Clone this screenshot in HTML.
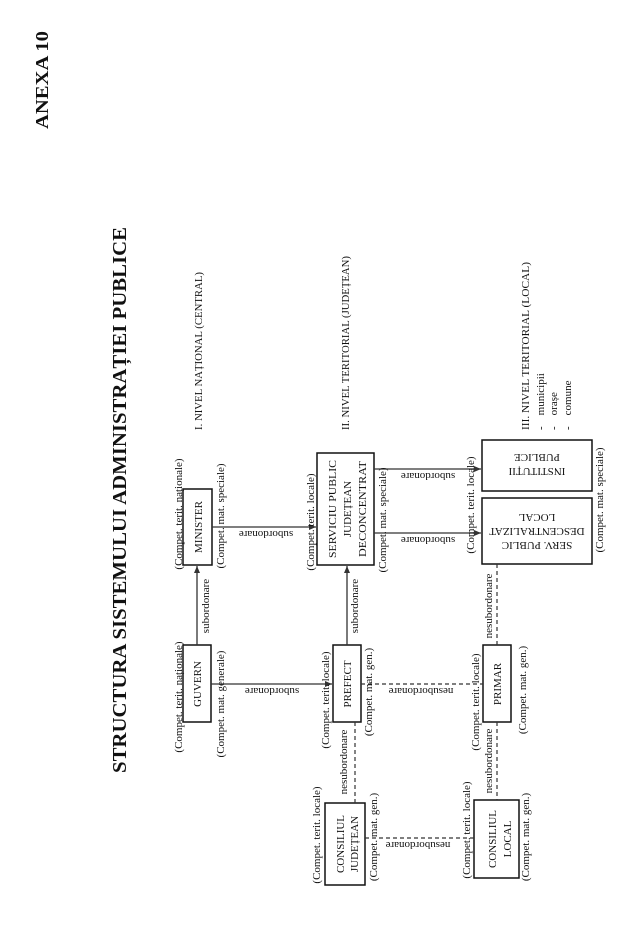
<!DOCTYPE html>
<html><head><meta charset="utf-8"><style>
html,body{margin:0;padding:0;background:#fff;}
svg{display:block;}
text{font-family:"Liberation Serif",serif;fill:#111;}
.s{font-size:11px;}
.b{font-size:11px;}
</style></head><body>
<svg width="636" height="948" viewBox="0 0 636 948" xmlns="http://www.w3.org/2000/svg">
<defs>
<marker id="a" markerWidth="8" markerHeight="8" refX="7" refY="4" orient="auto" markerUnits="userSpaceOnUse">
<path d="M0,1 L7,4 L0,7 z" fill="#333"/>
</marker>
</defs>

<!-- Title and annex -->
<text transform="translate(48,80) rotate(-90)" text-anchor="middle" font-size="18" font-weight="bold" textLength="98" lengthAdjust="spacingAndGlyphs">ANEXA 10</text>
<text transform="translate(126,500) rotate(-90)" text-anchor="middle" font-size="20" font-weight="bold" textLength="546" lengthAdjust="spacingAndGlyphs">STRUCTURA SISTEMULUI ADMINISTRAȚIEI PUBLICE</text>

<!-- Levels -->
<text transform="translate(202,351) rotate(-90)" text-anchor="middle" class="s" textLength="158" lengthAdjust="spacingAndGlyphs">I. NIVEL NAȚIONAL (CENTRAL)</text>
<text transform="translate(349,343) rotate(-90)" text-anchor="middle" class="s" textLength="174" lengthAdjust="spacingAndGlyphs">II. NIVEL TERITORIAL (JUDEȚEAN)</text>
<text transform="translate(529,346) rotate(-90)" text-anchor="middle" class="s" textLength="168" lengthAdjust="spacingAndGlyphs">III. NIVEL TERITORIAL (LOCAL)</text>
<text transform="translate(544,430) rotate(-90)" class="s">-&#160;&#160;&#160;&#160;municipii</text>
<text transform="translate(557,430) rotate(-90)" class="s">-&#160;&#160;&#160;&#160;orașe</text>
<text transform="translate(571,430) rotate(-90)" class="s">-&#160;&#160;&#160;&#160;comune</text>

<!-- Boxes -->
<g fill="none" stroke="#111" stroke-width="1.5">
<rect x="183" y="489" width="29" height="76"/>
<rect x="317" y="453" width="57" height="112"/>
<rect x="183" y="645" width="28" height="77"/>
<rect x="333" y="645" width="28" height="77"/>
<rect x="325" y="803" width="40" height="82"/>
<rect x="482" y="440" width="110" height="51"/>
<rect x="482" y="498" width="110" height="66"/>
<rect x="483" y="645" width="28" height="77"/>
<rect x="474" y="800" width="45" height="78"/>
</g>

<!-- Box texts -->
<text transform="translate(202,527) rotate(-90)" text-anchor="middle" class="b">MINISTER</text>
<text transform="translate(336,509) rotate(-90)" text-anchor="middle" class="b" textLength="98" lengthAdjust="spacingAndGlyphs">SERVICIU PUBLIC</text>
<text transform="translate(351,509) rotate(-90)" text-anchor="middle" class="b">JUDEȚEAN</text>
<text transform="translate(366,509) rotate(-90)" text-anchor="middle" class="b" textLength="96" lengthAdjust="spacingAndGlyphs">DECONCENTRAT</text>
<text transform="translate(201,684) rotate(-90)" text-anchor="middle" class="b">GUVERN</text>
<text transform="translate(351,684) rotate(-90)" text-anchor="middle" class="b">PREFECT</text>
<text transform="translate(344,844) rotate(-90)" text-anchor="middle" class="b">CONSILIUL</text>
<text transform="translate(358,844) rotate(-90)" text-anchor="middle" class="b">JUDEȚEAN</text>
<text transform="translate(501,684) rotate(-90)" text-anchor="middle" class="b">PRIMAR</text>
<text transform="translate(496,839) rotate(-90)" text-anchor="middle" class="b">CONSILIUL</text>
<text transform="translate(511,839) rotate(-90)" text-anchor="middle" class="b">LOCAL</text>
<text transform="translate(537,468) rotate(180)" text-anchor="middle" class="b">INSTITUȚII</text>
<text transform="translate(537,454) rotate(180)" text-anchor="middle" class="b">PUBLICE</text>
<text transform="translate(537,542) rotate(180)" text-anchor="middle" class="b">SERV. PUBLIC</text>
<text transform="translate(537,528) rotate(180)" text-anchor="middle" class="b">DESCENTRALIZAT</text>
<text transform="translate(537,514) rotate(180)" text-anchor="middle" class="b">LOCAL</text>

<!-- Solid arrows -->
<g stroke="#333" stroke-width="1.3" fill="none">
<line x1="197" y1="645" x2="197" y2="566" marker-end="url(#a)"/>
<line x1="212" y1="527" x2="316" y2="527" marker-end="url(#a)"/>
<line x1="211" y1="684" x2="332" y2="684" marker-end="url(#a)"/>
<line x1="347" y1="645" x2="347" y2="566" marker-end="url(#a)"/>
<line x1="374" y1="469" x2="481" y2="469" marker-end="url(#a)"/>
<line x1="374" y1="533" x2="481" y2="533" marker-end="url(#a)"/>
</g>
<!-- Dashed connectors -->
<g stroke="#333" stroke-width="1.2" fill="none" stroke-dasharray="4,3">
<line x1="361" y1="684" x2="483" y2="684"/>
<line x1="355" y1="722" x2="355" y2="803"/>
<line x1="365" y1="838" x2="474" y2="838"/>
<line x1="497" y1="645" x2="497" y2="564"/>
<line x1="497" y1="722" x2="497" y2="800"/>
</g>

<!-- Connector labels -->
<text transform="translate(209,606) rotate(-90)" text-anchor="middle" class="s">subordonare</text>
<text transform="translate(358,606) rotate(-90)" text-anchor="middle" class="s">subordonare</text>
<text transform="translate(347,762) rotate(-90)" text-anchor="middle" class="s">nesubordonare</text>
<text transform="translate(492,606) rotate(-90)" text-anchor="middle" class="s">nesubordonare</text>
<text transform="translate(492,761) rotate(-90)" text-anchor="middle" class="s">nesubordonare</text>
<text transform="translate(266,531) rotate(180)" text-anchor="middle" class="s">subordonare</text>
<text transform="translate(272,688) rotate(180)" text-anchor="middle" class="s">subordonare</text>
<text transform="translate(428,473) rotate(180)" text-anchor="middle" class="s">subordonare</text>
<text transform="translate(428,537) rotate(180)" text-anchor="middle" class="s">subordonare</text>
<text transform="translate(421,688) rotate(180)" text-anchor="middle" class="s">nesubordonare</text>
<text transform="translate(418,842) rotate(180)" text-anchor="middle" class="s">nesubordonare</text>

<!-- Compet labels -->
<text transform="translate(182,514) rotate(-90)" text-anchor="middle" class="s">(Compet. terit. naționale)</text>
<text transform="translate(224,516) rotate(-90)" text-anchor="middle" class="s">(Compet. mat. speciale)</text>
<text transform="translate(182,697) rotate(-90)" text-anchor="middle" class="s">(Compet. terit. naționale)</text>
<text transform="translate(224,704) rotate(-90)" text-anchor="middle" class="s">(Compet. mat. generale)</text>
<text transform="translate(314,522) rotate(-90)" text-anchor="middle" class="s">(Compet. terit. locale)</text>
<text transform="translate(386,520) rotate(-90)" text-anchor="middle" class="s">(Compet. mat. speciale)</text>
<text transform="translate(329,700) rotate(-90)" text-anchor="middle" class="s">(Compet. terit. locale)</text>
<text transform="translate(372,692) rotate(-90)" text-anchor="middle" class="s">(Compet. mat. gen.)</text>
<text transform="translate(320,835) rotate(-90)" text-anchor="middle" class="s">(Compet. terit. locale)</text>
<text transform="translate(377,837) rotate(-90)" text-anchor="middle" class="s">(Compet. mat. gen.)</text>
<text transform="translate(474,505) rotate(-90)" text-anchor="middle" class="s">(Compet. terit. locale)</text>
<text transform="translate(603,500) rotate(-90)" text-anchor="middle" class="s">(Compet. mat. speciale)</text>
<text transform="translate(479,702) rotate(-90)" text-anchor="middle" class="s">(Compet. terit. locale)</text>
<text transform="translate(526,690) rotate(-90)" text-anchor="middle" class="s">(Compet. mat. gen.)</text>
<text transform="translate(470,830) rotate(-90)" text-anchor="middle" class="s">(Compet. terit. locale)</text>
<text transform="translate(529,837) rotate(-90)" text-anchor="middle" class="s">(Compet. mat. gen.)</text>
</svg>
</body></html>
